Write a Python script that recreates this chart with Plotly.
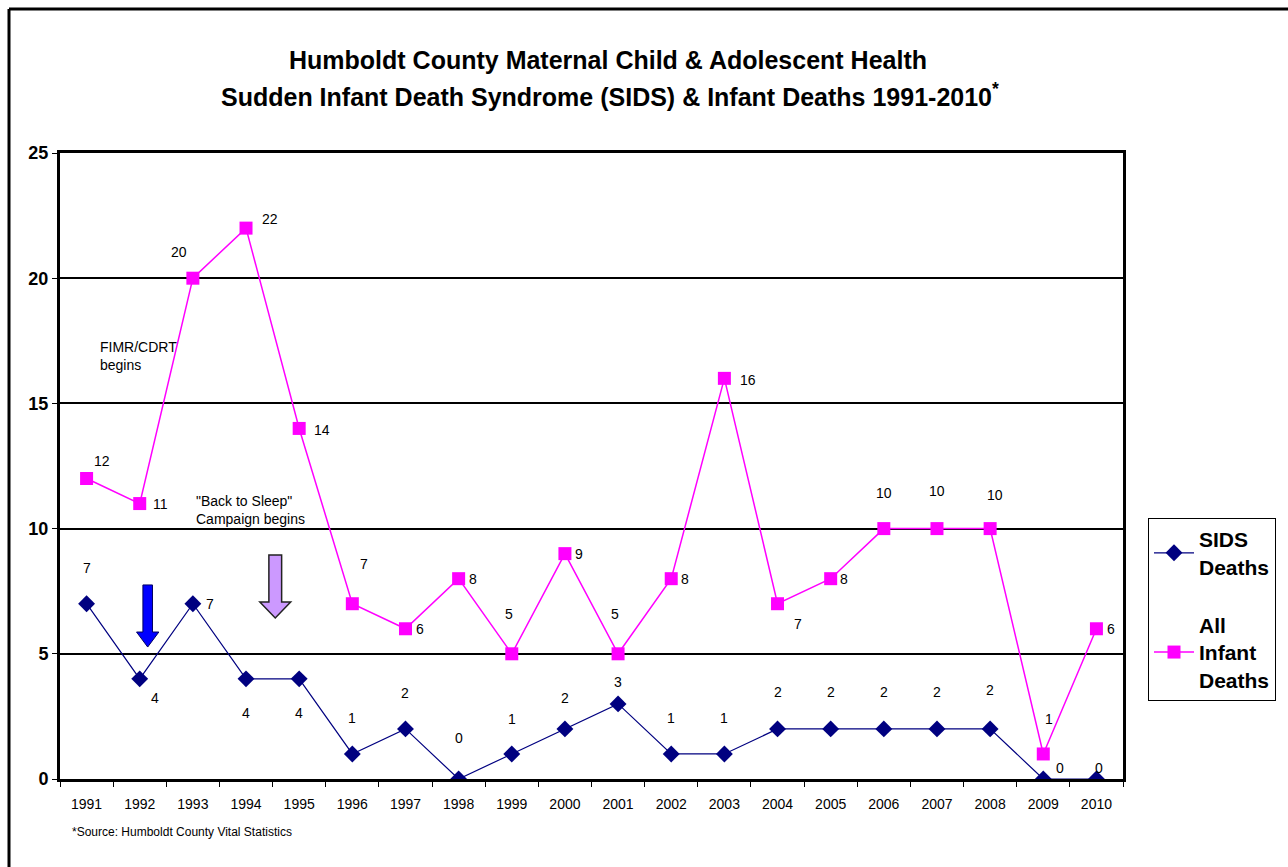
import plotly.graph_objects as go

years = [str(y) for y in range(1991, 2011)]
sids = [7, 4, 7, 4, 4, 1, 2, 0, 1, 2, 3, 1, 1, 2, 2, 2, 2, 2, 0, 0]
infant = [12, 11, 20, 22, 14, 7, 6, 8, 5, 9, 5, 8, 16, 7, 8, 10, 10, 10, 1, 6]

# label offsets in pixels (dx, dy) — styling only
infant_off = [(15, 18), (21, 0), (-14, 26), (24, 9), (23, -2), (12, 40), (15, 0), (14, 0),
              (-3, 40), (14, 0), (-3, 40), (14, 0), (24, -2), (20, -20), (13, 0), (0, 36),
              (0, 38), (5, 34), (6, 35), (15, 0)]
sids_off = [(0, 36), (15, -19), (17, 0), (0, -34), (0, -34), (0, 36), (0, 36), (0, 41),
            (0, 35), (0, 31), (0, 22), (0, 36), (0, 36), (0, 37), (0, 37), (0, 37), (0, 37),
            (0, 39), (17, 11), (3, 11)]

W, H = 1288, 867
L, R, T, B = 60, 165, 153, 88
PW, PH = W - L - R, H - T - B


def px(x, y):
    return (x - L) / PW, (H - B - y) / PH


idx = list(range(len(years)))
FONT = "Liberation Sans, Arial, sans-serif"

fig = go.Figure()
fig.add_trace(go.Scatter(
    x=idx, y=sids, name="SIDS<br>Deaths", mode="lines+markers", legendgroup="a",
    line=dict(color="#000080", width=1.2),
    marker=dict(symbol="diamond", size=13, color="#000080")))
fig.add_trace(go.Scatter(
    x=idx, y=infant, name="All<br>Infant<br>Deaths", mode="lines+markers", legendgroup="b",
    line=dict(color="#FF00FF", width=1.5),
    marker=dict(symbol="square", size=13, color="#FF00FF")))

ann = []
for i, v in enumerate(infant):
    dx, dy = infant_off[i]
    ann.append(dict(x=i, y=v, xref="x", yref="y", text=str(v), showarrow=False,
                    xshift=dx, yshift=dy, font=dict(size=14, color="black", family=FONT)))
for i, v in enumerate(sids):
    dx, dy = sids_off[i]
    ann.append(dict(x=i, y=v, xref="x", yref="y", text=str(v), showarrow=False,
                    xshift=dx, yshift=dy, font=dict(size=14, color="black", family=FONT)))

# titles and notes
for txt, (x, y), size in [
    ("Humboldt County Maternal Child & Adolescent Health", (608, 60), 25),
    ("Sudden Infant Death Syndrome (SIDS) & Infant Deaths 1991-2010<sup>*</sup>", (610, 95), 25),
]:
    xp, yp = px(x, y)
    ann.append(dict(x=xp, y=yp, xref="paper", yref="paper", text=f"<b>{txt}</b>",
                    showarrow=False, xanchor="center", yanchor="middle",
                    font=dict(size=size, color="black", family=FONT)))

xp, yp = px(70, 832)
ann.append(dict(x=xp, y=yp, xref="paper", yref="paper", text="*Source: Humboldt County Vital Statistics",
                showarrow=False, xanchor="left", yanchor="middle",
                font=dict(size=12, color="black", family=FONT)))
xp, yp = px(98, 356)
ann.append(dict(x=xp, y=yp, xref="paper", yref="paper", text="FIMR/CDRT<br>begins", align="left",
                showarrow=False, xanchor="left", yanchor="middle",
                font=dict(size=14, color="black", family=FONT)))
xp, yp = px(194, 510)
ann.append(dict(x=xp, y=yp, xref="paper", yref="paper", text="\"Back to Sleep\"<br>Campaign begins",
                align="left", showarrow=False, xanchor="left", yanchor="middle",
                font=dict(size=14, color="black", family=FONT)))

# block arrows (data coordinates)
def block_arrow(cx, top, neck, tip, hw, hh):
    return (f"M {cx-hw},{top} L {cx+hw},{top} L {cx+hw},{neck} L {cx+hh},{neck} "
            f"L {cx},{tip} L {cx-hh},{neck} L {cx-hw},{neck} Z")

shapes = [
    dict(type="path", xref="x", yref="y", path=block_arrow(1.15, 7.75, 5.87, 5.27, 0.09, 0.21),
         fillcolor="#0000FF", line=dict(color="#000060", width=1)),
    dict(type="path", xref="x", yref="y", path=block_arrow(3.55, 8.95, 7.07, 6.43, 0.12, 0.29),
         fillcolor="#CC99FF", line=dict(color="#222222", width=1.5)),
]
# outer frame (left and top)
x0, y0 = px(9, 9)
x1, y1 = px(1300, 880)
shapes.append(dict(type="line", xref="paper", yref="paper", x0=x0, y0=y0, x1=x0, y1=y1,
                   line=dict(color="black", width=3)))
shapes.append(dict(type="line", xref="paper", yref="paper", x0=x0, y0=y0, x1=x1, y1=y0,
                   line=dict(color="black", width=3)))

lx, ly = px(1148, 518)
fig.update_layout(
    width=W, height=H, margin=dict(l=L, r=R, t=T, b=B, pad=0),
    paper_bgcolor="white", plot_bgcolor="white",
    font=dict(family=FONT, color="black"),
    showlegend=True,
    legend=dict(x=lx, y=ly, xanchor="left", yanchor="top", bordercolor="black", borderwidth=1,
                font=dict(size=21, family=FONT, color="black", weight="bold"),
                bgcolor="white", tracegroupgap=28, itemwidth=40),
    annotations=ann, shapes=shapes,
    xaxis=dict(range=[-0.5, 19.5], tickmode="array", tickvals=idx, ticktext=years,
               ticks="outside", ticklen=10, tickcolor="rgba(0,0,0,0)",
               minor=dict(tick0=0.5, dtick=1, ticks="outside", ticklen=5, tickcolor="black", tickwidth=1),
               showline=True, linecolor="black", linewidth=3, mirror=True,
               showgrid=False, zeroline=False, fixedrange=True,
               tickfont=dict(size=14, family=FONT, color="black")),
    yaxis=dict(range=[0, 25], tickvals=[0, 5, 10, 15, 20, 25], ticks="outside", ticklen=5,
               tickcolor="black", showline=True, linecolor="black", linewidth=3, mirror=True,
               showgrid=True, gridcolor="black", gridwidth=1.5, zeroline=False,
               tickfont=dict(size=18, family=FONT, color="black", weight="bold")),
)

fig.write_html("out.html")
